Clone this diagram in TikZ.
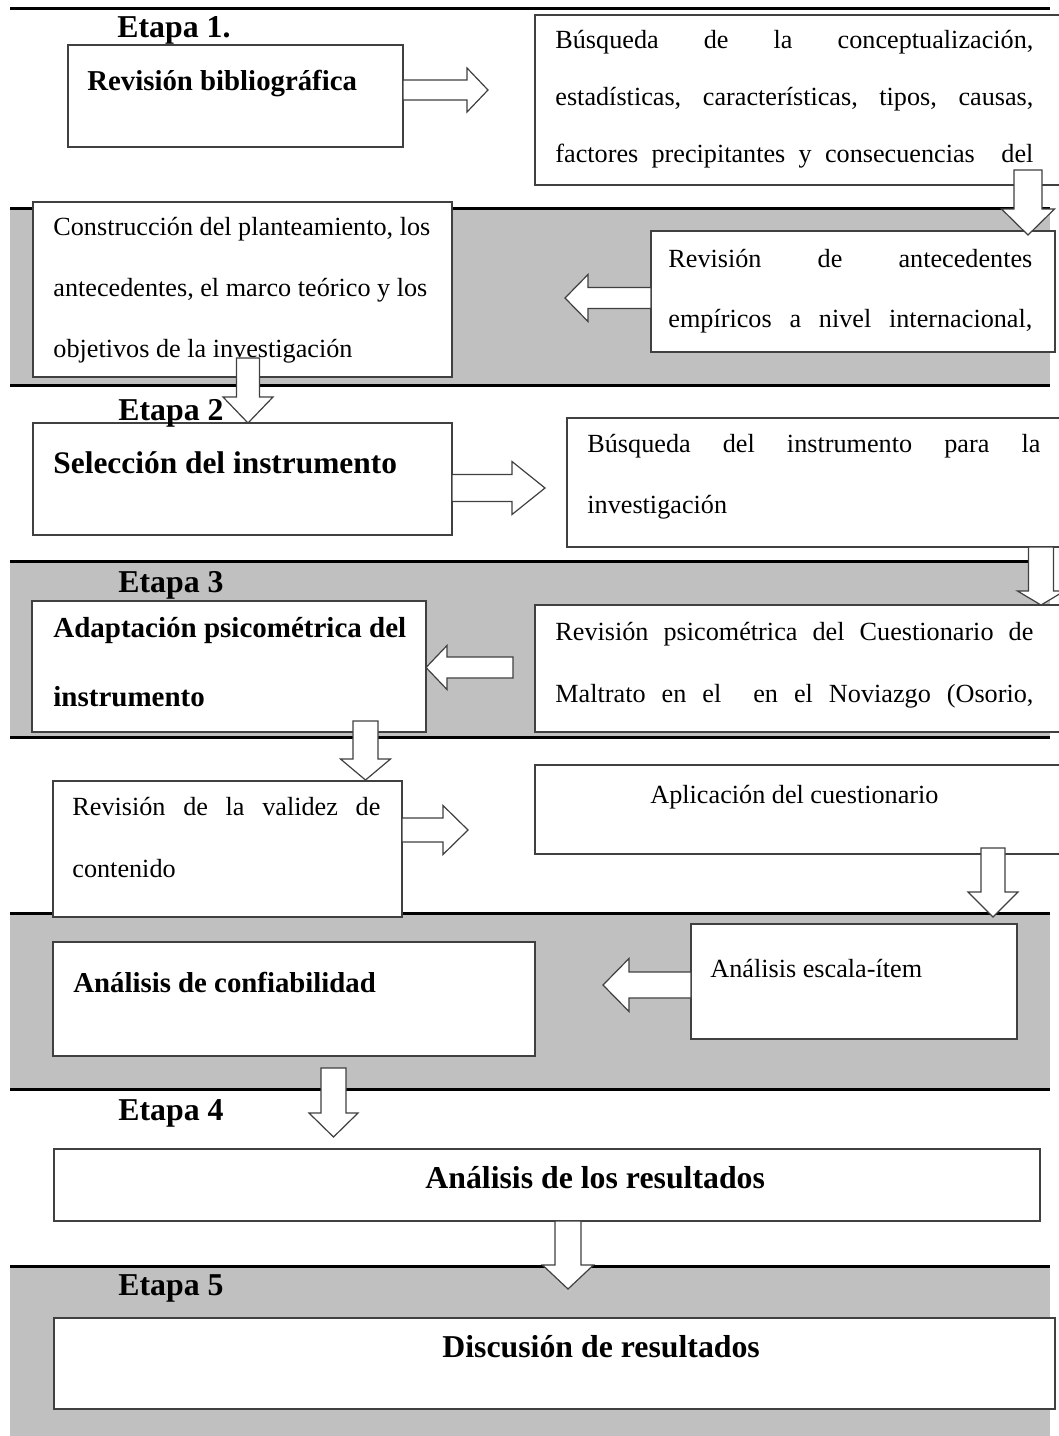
\documentclass[tikz,border=0pt]{standalone}
\usepackage{fontspec}
\setmainfont{Liberation Serif}
\usetikzlibrary{calc,fit}
\definecolor{bandgrey}{RGB}{192,192,192}
\definecolor{edgecol}{RGB}{64,64,64}
\newcommand{\fsz}[2]{\fontsize{#1}{#2}\selectfont}
\newcommand{\jl}[1]{\makebox[\linewidth][s]{#1}}
% horizontal block arrow: start, tip, body half-height, head length (neg = leftwards), head half-height
\newcommand{\harr}[5]{\draw[barrow] ($(#1)+(0,#3)$) -- ($(#2)+({-(#4)},#3)$) -- ($(#2)+({-(#4)},#5)$) -- (#2) -- ($(#2)+({-(#4)},{-(#5)})$) -- ($(#2)+({-(#4)},{-(#3)})$) -- ($(#1)+(0,{-(#3)})$) -- cycle;}
% vertical block arrow (downwards): start, tip, body half-width, head length, head half-width
\newcommand{\varr}[5]{\draw[barrow] ($(#1)+(#3,0)$) -- ($(#2)+(#3,{-(#4)})$) -- ($(#2)+(#5,{-(#4)})$) -- (#2) -- ($(#2)+({-(#5)},{-(#4)})$) -- ($(#2)+({-(#3)},{-(#4)})$) -- ($(#1)+({-(#3)},0)$) -- cycle;}
\begin{document}
\begin{tikzpicture}[x=0.5pt,y=-0.5pt,
  box/.style={draw=edgecol, line width=0.6pt, fill=white, inner sep=0pt, outer sep=0pt},
  barrow/.style={draw=edgecol, line width=0.6pt, fill=white, line join=miter},
  bandline/.style={line width=1.5pt, black},
  lbl/.style={inner sep=0pt, anchor=base west, font=\bfseries\fsz{15.9}{19}},
  hd/.style={inner sep=0pt, anchor=base west, font=\bfseries\fsz{14.4}{17}},
  tx/.style={inner sep=0pt, anchor=base west, font=\fsz{13.1}{16}}]
\useasboundingbox (0,0) rectangle (1059,1436);
\fill[white] (0,0) rectangle (1059,1436);
% bands
\fill[bandgrey] (10,208) rectangle (1050,385);
\fill[bandgrey] (10,561) rectangle (1050,737);
\fill[bandgrey] (10,913) rectangle (1050,1089);
\fill[bandgrey] (10,1266) rectangle (1050,1436);
\foreach \yy in {8,208,385,561,737,913,1089,1266}
  \draw[bandline] (10,\yy) -- (1050,\yy);
% boxes
\node[box, fit={(68,45) (403,147)}] (b1) {};
\node[box, fit={(535,15) (1070,185)}] (b2) {};
\node[box, fit={(651,231) (1055,352)}] (b3) {};
\node[box, fit={(33,202) (452,377)}] (b4) {};
\node[box, fit={(33,423) (452,535)}] (b5) {};
\node[box, fit={(567,418) (1070,547)}] (b6) {};
\node[box, fit={(32,601) (426,732)}] (b7) {};
\node[box, fit={(535,605) (1070,732)}] (b8) {};
\node[box, fit={(53,781) (402,917)}] (b9) {};
\node[box, fit={(535,765) (1070,854)}] (b10) {};
\node[box, fit={(691,924) (1017,1039)}] (b11) {};
\node[box, fit={(53,942) (535,1056)}] (b12) {};
\node[box, fit={(54,1149) (1040,1221)}] (b13) {};
\node[box, fit={(54,1318) (1055,1409)}] (b14) {};
% stage labels
\node[lbl] (e1) at (117,37) {Etapa 1.};
\node[lbl] (e2) at (118,420) {Etapa 2};
\node[lbl] (e3) at (118,592) {Etapa 3};
\node[lbl] (e4) at (118,1120) {Etapa 4};
\node[lbl] (e5) at (118,1295) {Etapa 5};
% texts
\node[hd] (t1) at (87,90) {Revisión bibliográfica};
\node[tx] (t2) at (555,48) {\parbox[t]{239pt}{\fsz{13.1}{28.5}\jl{Búsqueda de la conceptualización,}\\\jl{estadísticas, características, tipos, causas,}\\\jl{factores precipitantes y consecuencias \ del}}};
\node[tx] (t3) at (668,267) {\parbox[t]{182pt}{\fsz{13.1}{30}\jl{Revisión de antecedentes}\\\jl{empíricos a nivel internacional,}}};
\node[tx] (t4) at (53,235) {\parbox[t]{205pt}{\raggedright\fsz{13.1}{30.5}Construcción del planteamiento, los\\antecedentes, el marco teórico y los\\objetivos de la investigación}};
\node[lbl, font=\bfseries\fsz{15.7}{19}] (t5) at (53,473) {Selección del instrumento};
\node[tx] (t6) at (587,452) {\parbox[t]{226.5pt}{\raggedright\fsz{13.1}{30.5}\jl{Búsqueda del instrumento para la}\\investigación}};
\node[hd] (t7) at (53,637) {\parbox[t]{190pt}{\raggedright\bfseries\fsz{14.5}{34.5}Adaptación psicométrica del\\instrumento}};
\node[tx] (t8) at (555,640) {\parbox[t]{239pt}{\fsz{13.1}{31}\jl{Revisión psicométrica del Cuestionario de}\\\jl{Maltrato en el \ en el Noviazgo (Osorio,}}};
\node[tx] (t9) at (72,815) {\parbox[t]{154pt}{\raggedright\fsz{13.1}{31}\jl{Revisión de la validez de}\\contenido}};
\node[tx] (t10) at (650,803) {Aplicación del cuestionario};
\node[tx] (t11) at (710,977) {Análisis escala-ítem};
\node[hd] (t12) at (73,992) {Análisis de confiabilidad};
\node[lbl] (t13) at (425,1188) {Análisis de los resultados};
\node[lbl] (t14) at (442,1357) {Discusión de resultados};
% connectors (block arrows)
\coordinate (a1t) at (488,90); \coordinate (a1s) at (b1.east |- a1t);
\harr{a1s}{a1t}{10}{21}{22}
\coordinate (a2t) at (1028,235); \coordinate (a2s) at (1028,170);
\varr{a2s}{a2t}{14}{26}{26.5}
\coordinate (a3t) at (565,298); \coordinate (a3s) at (b3.west |- a3t);
\harr{a3s}{a3t}{10.5}{-23}{23.5}
\coordinate (a4t) at (248,423); \coordinate (a4s) at (248,358);
\varr{a4s}{a4t}{11.5}{26}{25}
\coordinate (a5t) at (545,488); \coordinate (a5s) at (b5.east |- a5t);
\harr{a5s}{a5t}{13.5}{33}{26.5}
\coordinate (a6t) at (1041,605); \coordinate (a6s) at (a6t |- b6.south);
\varr{a6s}{a6t}{12.5}{14}{23.5}
\coordinate (a7t) at (426,667.5); \coordinate (a7s) at (513,667.5);
\harr{a7s}{a7t}{10.5}{-21}{22}
\coordinate (a8t) at (365.5,780); \coordinate (a8s) at (365.5,721);
\varr{a8s}{a8t}{12.5}{21}{25}
\coordinate (a9t) at (468,830); \coordinate (a9s) at (b9.east |- a9t);
\harr{a9s}{a9t}{12}{25}{24.5}
\coordinate (a10t) at (993,917); \coordinate (a10s) at (993,848);
\varr{a10s}{a10t}{12}{25}{25}
\coordinate (a11t) at (603,985); \coordinate (a11s) at (b11.west |- a11t);
\harr{a11s}{a11t}{13}{-26}{26.5}
\coordinate (a12t) at (333.5,1137); \coordinate (a12s) at (333.5,1068);
\varr{a12s}{a12t}{12.5}{24}{24.5}
\coordinate (a13t) at (568,1289); \coordinate (a13s) at (a13t |- b13.south);
\varr{a13s}{a13t}{13}{24}{25.5}
\end{tikzpicture}
\end{document}
